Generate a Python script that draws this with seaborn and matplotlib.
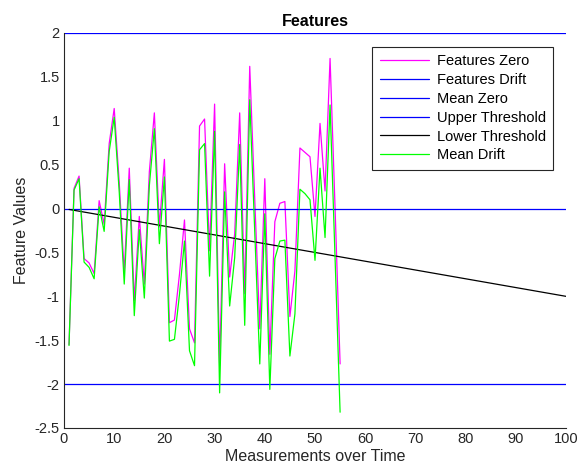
import matplotlib
matplotlib.use("Agg")
import matplotlib.pyplot as plt
import seaborn as sns
import numpy as np
import pandas as pd

# ---- data ----
measurements = list(range(1, 56))
features_zero = [-1.55, 0.23, 0.37, -0.57, -0.62, -0.74, 0.09, -0.18, 0.74, 1.14,
                 0.3, -0.73, 0.46, -1.05, -0.09, -0.86, 0.42, 1.09, -0.21, 0.56,
                 -1.3, -1.27, -0.75, -0.13, -1.37, -1.53, 0.94, 1.02, -0.48, 1.19,
                 -1.79, 0.51, -0.78, -0.29, 1.09, -0.97, 1.62, 0.1, -1.37, 0.34,
                 -1.66, -0.15, 0.06, 0.08, -1.23, -0.71, 0.69, 0.64, 0.59, -0.09,
                 0.97, 0.2, 1.71, 0.0, -1.77]
mean_drift = [-1.56, 0.21, 0.34, -0.61, -0.67, -0.8, 0.02, -0.26, 0.65, 1.04,
              0.19, -0.86, 0.33, -1.22, -0.24, -1.02, 0.26, 0.91, -0.4, 0.36,
              -1.51, -1.49, -0.98, -0.37, -1.62, -1.79, 0.67, 0.74, -0.77, 0.88,
              -2.1, 0.19, -1.11, -0.56, 0.73, -1.33, 1.24, -0.27, -1.77, -0.06,
              -2.06, -0.57, -0.37, -0.36, -1.68, -1.2, 0.22, 0.17, 0.1, -0.59,
              0.46, -0.33, 1.18, -0.57, -2.32]
hline_x = [0, 100]
features_drift_y = [0, 0]
mean_zero_y = [2, 2]
upper_threshold_y = [-2, -2]
trend_x = [1, 100]
trend_y = [-0.01, -1.0]
x_ticks = list(range(0, 101, 10))
y_ticks = [-2.5, -2, -1.5, -1, -0.5, 0, 0.5, 1, 1.5, 2]
y_tick_labels = ["-2.5", "-2", "-1.5", "-1", "-0.5", "0", "0.5", "1", "1.5", "2"]

sns.set_style("white")
plt.rcParams['font.family'] = ['Liberation Sans', 'DejaVu Sans']

fig = plt.figure(figsize=(5.8, 4.75), dpi=100)
ax = fig.add_axes([64/580, 1-428/475, (566-64)/580, (428-33)/475])

lw = 0.9
sns.lineplot(x=measurements, y=features_zero, ax=ax, color='#FF00FF', lw=lw,
             label='Features Zero', sort=False)
sns.lineplot(x=hline_x, y=features_drift_y, ax=ax, color='#0000FF', lw=lw,
             label='Features Drift', sort=False)
sns.lineplot(x=hline_x, y=mean_zero_y, ax=ax, color='#0000FF', lw=lw,
             label='Mean Zero', sort=False)
sns.lineplot(x=hline_x, y=upper_threshold_y, ax=ax, color='#0000FF', lw=lw,
             label='Upper Threshold', sort=False)
sns.lineplot(x=trend_x, y=trend_y, ax=ax, color='#000000', lw=lw,
             label='Lower Threshold', sort=False)
sns.lineplot(x=measurements, y=mean_drift, ax=ax, color='#00FF00', lw=lw,
             label='Mean Drift', sort=False)

ax.set_xlim(0, 100)
ax.set_ylim(-2.5, 2)
ax.set_xticks(x_ticks)
ax.set_yticks(y_ticks)
ax.set_yticklabels(y_tick_labels)
axis_col = '#262626'
for s in ['left', 'bottom']:
    ax.spines[s].set_color(axis_col)
    ax.spines[s].set_linewidth(0.8)
for s in ['top', 'right']:
    ax.spines[s].set_visible(False)
ax.tick_params(direction='in', length=4, width=0.8, colors=axis_col,
               labelsize=10.5, labelcolor=axis_col, pad=3)
ax.set_xlabel('Measurements over Time', fontsize=11.5, color=axis_col, labelpad=2)
ax.set_ylabel('Feature Values', fontsize=11.5, color=axis_col, labelpad=4)
ax.set_title('Features', fontsize=11.5, fontweight='bold', color='black', pad=5)

leg = ax.legend(loc='upper right', bbox_to_anchor=(553/580, 1-47/475),
                bbox_transform=fig.transFigure, fontsize=10.5, frameon=True,
                fancybox=False, edgecolor='#262626', framealpha=1,
                borderpad=0.5, labelspacing=0.33, handlelength=3.4,
                handletextpad=0.5, borderaxespad=0)
leg.get_frame().set_linewidth(0.8)
for t in leg.get_texts():
    t.set_color('black')

fig.savefig('out.png', dpi=100)
